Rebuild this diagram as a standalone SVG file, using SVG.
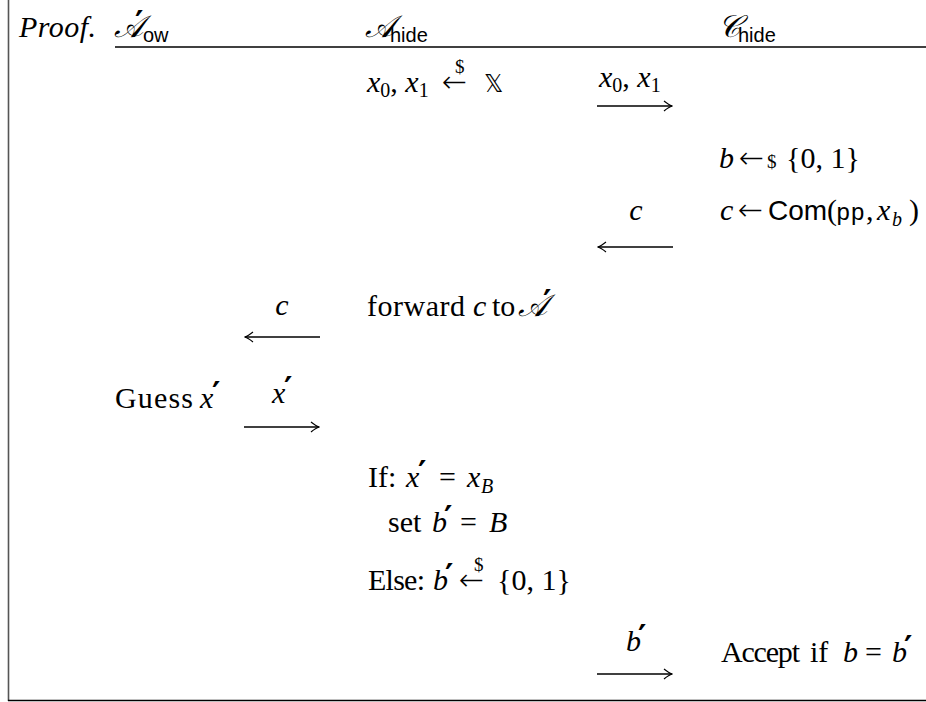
<svg xmlns="http://www.w3.org/2000/svg" width="926" height="702" viewBox="0 0 926 702">
<style>
text{font-family:"Liberation Serif","DejaVu Serif",serif;font-size:30px;fill:#000}
.it{font-style:italic}
.rm{font-style:normal}
.sf{font-family:"Liberation Sans","DejaVu Sans",sans-serif;font-style:normal}
.sub{font-size:20px}
.hs{font-family:"Liberation Sans","DejaVu Sans",sans-serif;font-size:20px;font-style:normal}
.tt{font-family:"Liberation Mono","DejaVu Sans Mono",monospace;font-style:normal;font-size:24px}
.scr{font-family:"DejaVu Sans","Noto Sans",serif;font-style:italic;font-size:31px}
.bb{font-family:"DejaVu Sans","Noto Sans",serif;font-style:normal;font-size:24px}
.pr{font-family:"DejaVu Sans",sans-serif;font-size:32px;font-weight:bold;font-style:normal}
.ar{font-family:"DejaVu Sans",sans-serif;font-size:30px;font-weight:200;font-style:normal}
.dl{font-size:19px;font-style:normal}
.ln{stroke:#000;stroke-width:1.3;fill:none}
</style>
<defs>
<marker id="ah" viewBox="0 0 10 12" refX="9" refY="6" markerWidth="10" markerHeight="12" markerUnits="userSpaceOnUse" orient="auto-start-reverse">
<path d="M1,1 Q6,5 9,6 Q6,7 1,11" fill="none" stroke="#000" stroke-width="1.2"/>
</marker>
</defs>
<g id="frame">
<line x1="8.5" y1="0" x2="8.5" y2="701" stroke="#555" stroke-width="1.6"/>
<line x1="8" y1="700.5" x2="926" y2="700.5" stroke="#000" stroke-width="1.6"/>
<text x="19" y="37" class="it" textLength="77">Proof.</text>
</g>
<g id="header">
<line x1="115" y1="47" x2="926" y2="47" class="ln"/>
<g id="col-aow">
<text x="114" y="37"><tspan class="scr">𝒜</tspan><tspan class="pr" x="135" y="33">′</tspan><tspan class="hs" x="143" y="42">ow</tspan></text>
</g>
<g id="col-ahide">
<text x="365" y="37"><tspan class="scr">𝒜</tspan><tspan class="hs" x="390" y="42">hide</tspan></text>
</g>
<g id="col-chide">
<text x="718" y="37"><tspan class="scr">𝒞</tspan><tspan class="hs" x="738" y="42">hide</tspan></text>
</g>
</g>
<g id="ahide-sample">
<text x="367" y="92" class="it">x<tspan class="sub rm" dy="5">0</tspan><tspan class="rm" dy="-5">, </tspan>x<tspan class="sub rm" dy="5">1</tspan><tspan class="ar" x="442" y="92">←</tspan><tspan class="dl" x="455" y="73">$</tspan><tspan class="bb" x="484" y="92">𝕏</tspan></text>
</g>
<g id="chide-sample">
<text x="719" y="168" class="it">b<tspan class="ar" x="739">←</tspan><tspan class="dl" x="767">$</tspan><tspan class="rm" x="786">{0, 1}</tspan></text>
</g>
<g id="chide-commit">
<text x="720" y="220" class="it">c<tspan class="ar" x="738">←</tspan><tspan class="sf" x="768" style="font-size:28px">Com</tspan><tspan class="rm" x="827">(</tspan><tspan class="tt" x="836">pp</tspan><tspan class="rm" x="866">,</tspan><tspan x="877">x</tspan><tspan class="sub" x="892" y="226">b</tspan><tspan class="rm" x="909" y="220">)</tspan></text>
</g>
<g id="ahide-forward">
<text x="367" y="316"><tspan textLength="98">forward</tspan><tspan class="it" x="473">c</tspan><tspan x="492">to</tspan><tspan class="scr" x="518">𝒜</tspan><tspan class="pr" x="543" y="312">′</tspan></text>
</g>
<g id="aow-guess">
<text x="115" y="408"><tspan textLength="78">Guess</tspan><tspan class="it" x="200">x</tspan><tspan class="pr" x="212" y="404">′</tspan></text>
</g>
<g id="ahide-check">
<text x="368" y="487">If:<tspan class="it" x="406">x</tspan><tspan class="pr" x="418" y="483">′</tspan><tspan x="439" y="487">=</tspan><tspan class="it" x="467">x</tspan><tspan class="sub it" x="481" y="493">B</tspan></text>
<text x="388" y="532">set<tspan class="it" x="432">b</tspan><tspan class="pr" x="444" y="528">′</tspan><tspan x="460" y="532">=</tspan><tspan class="it" x="489">B</tspan></text>
<text x="368" y="590"><tspan textLength="57">Else:</tspan><tspan class="it" x="433">b</tspan><tspan class="pr" x="445" y="586">′</tspan><tspan class="ar" x="459" y="590">←</tspan><tspan class="dl" x="474" y="571">$</tspan><tspan x="497" y="590">{0, 1}</tspan></text>
</g>
<g id="chide-accept">
<text x="721" y="662"><tspan textLength="79">Accept</tspan><tspan x="810">if</tspan><tspan class="it" x="843">b</tspan><tspan x="865">=</tspan><tspan class="it" x="892">b</tspan><tspan class="pr" x="904" y="658">′</tspan></text>
</g>
<g id="connectors">
<line x1="597" y1="106" x2="672" y2="106" class="ln" marker-end="url(#ah)"/>
<text x="599" y="87" class="it">x<tspan class="sub rm" dy="5">0</tspan><tspan class="rm" dy="-5">, </tspan>x<tspan class="sub rm" dy="5">1</tspan></text>
<line x1="598" y1="247" x2="673" y2="247" class="ln" marker-start="url(#ah)"/>
<text x="636" y="220" text-anchor="middle" class="it">c</text>
<line x1="245" y1="337" x2="320" y2="337" class="ln" marker-start="url(#ah)"/>
<text x="282" y="315" text-anchor="middle" class="it">c</text>
<line x1="244" y1="427" x2="319" y2="427" class="ln" marker-end="url(#ah)"/>
<text x="272" y="403" class="it">x<tspan class="pr" x="284" y="399">′</tspan></text>
<line x1="597" y1="674" x2="672" y2="674" class="ln" marker-end="url(#ah)"/>
<text x="626" y="651" class="it">b<tspan class="pr" x="638" y="647">′</tspan></text>
</g>
</svg>
